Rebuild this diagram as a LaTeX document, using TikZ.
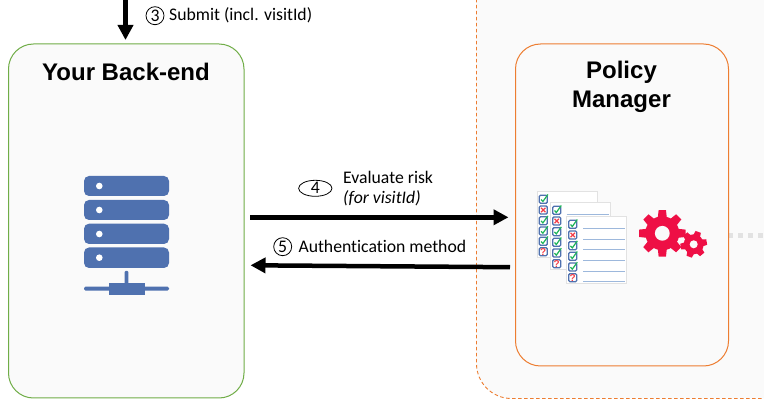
\documentclass[tikz,border=0pt]{standalone}
\usepackage{fontspec}
\setmainfont[Ligatures=NoCommon]{Carlito}
\newfontfamily\titlefont{Liberation Sans}
\usetikzlibrary{arrows.meta}
\definecolor{panel}{HTML}{FAFAFA}
\definecolor{orangeline}{HTML}{ED7D31}
\definecolor{greenline}{HTML}{70AD47}
\definecolor{serverblue}{HTML}{4F71AF}
\definecolor{gearred}{HTML}{EE0F45}
\definecolor{sheetedge}{HTML}{E2E2E2}
\definecolor{ruleblue}{HTML}{9DB8DC}
\definecolor{tickgreen}{HTML}{1FB45A}
\definecolor{crossred}{HTML}{F2404A}
\tikzset{
  x=1pt,y=-1pt,
  box/.style={rounded corners=25pt,fill=panel,line width=1pt},
  title/.style={font=\titlefont\bfseries\fontsize{24}{29}\selectfont,align=center,text=black,inner sep=0pt},
  label/.style={font=\fontsize{17.7}{21}\selectfont,anchor=west,inner sep=0pt,text=black},
  num/.style={font=\fontsize{17.7}{21}\selectfont,draw=black,line width=.8pt,inner sep=0pt},
  flow/.style={line width=4.5pt,-{Triangle[length=15pt,width=15pt]}},
  sheet/.style={fill=white,draw=sheetedge,line width=.9pt},
  boxmark/.style={fill=white,draw=serverblue,line width=1.3pt,rounded corners=1.2pt},
  tick/.style={draw=tickgreen,line width=1.2pt},
  cross/.style={draw=crossred,line width=1.2pt},
  qmark/.style={text=crossred,font=\titlefont\bfseries\fontsize{10}{10}\selectfont,inner sep=0pt},
  rule/.style={draw=ruleblue,line width=.9pt},
  bar/.style={fill=serverblue,rounded corners=5pt},
}
\newcommand{\chk}[2]{\filldraw[boxmark] ({#1-4},{#2-4}) rectangle ({#1+4},{#2+4});}
\newcommand{\chkok}[2]{\chk{#1}{#2}\draw[tick] ({#1-2.2},{#2+.2}) -- ({#1-.4},{#2+2.2}) -- ({#1+4.6},{#2-4.8});}
\newcommand{\chkno}[2]{\chk{#1}{#2}\draw[cross] ({#1-2.2},{#2-2.2}) -- ({#1+2.2},{#2+2.2}) ({#1-2.2},{#2+2.2}) -- ({#1+2.2},{#2-2.2});}
\newcommand{\chkq}[3]{\chk{#1}{#2}\node[qmark] (#3) at (#1,#2) {?};}
% rotation, cx, cy, root radius, outer radius, teeth
\newcommand{\gearshape}[6]{%
  \begin{scope}[shift={(#2,#3)}]
  \fill[gearred] (0,0) circle (#4);
  \pgfmathsetmacro{\st}{360/#6}
  \foreach \i in {1,...,#6}{
    \pgfmathsetmacro{\aa}{#1+\i*\st}
    \fill[gearred] ({#4*.95*cos(\aa-.36*\st)},{#4*.95*sin(\aa-.36*\st)}) --
      ({#5*cos(\aa-.2*\st)},{#5*sin(\aa-.2*\st)}) --
      ({#5*cos(\aa+.2*\st)},{#5*sin(\aa+.2*\st)}) --
      ({#4*.95*cos(\aa+.36*\st)},{#4*.95*sin(\aa+.36*\st)}) -- cycle;
  }
  \end{scope}
}
\begin{document}
\begin{tikzpicture}
\useasboundingbox (0,0) rectangle (764,406);
\fill[white] (0,0) rectangle (764,406);
% outer dashed zone
\begin{scope}
\clip (0,0) rectangle (764,406);
\filldraw[fill=panel,draw=orangeline,line width=.9pt,dash pattern=on 3.5pt off 2.5pt,rounded corners=35pt]
  (476.5,-60) rectangle (860,398.5);
\end{scope}
% dotted continuation
\coordinate (dotsA) at (728,236);
\coordinate (dotsB) at (764,236);
\draw[draw=sheetedge,line width=5pt,dash pattern=on 5pt off 5pt] (dotsA) -- (dotsB);
% boxes
\node[box,draw=greenline,minimum width=235.5pt,minimum height=354pt,inner sep=0pt] (backend) at (126.25,221) {};
\node[box,draw=orangeline,minimum width=213pt,minimum height=322pt,inner sep=0pt] (manager) at (622,205) {};
\node[title] (backendtitle) at (126,72) {Your Back-end};
\node[title] (managertitle) at (621.5,87) {Policy\\Manager};
% server icon
\fill[bar] (84,176) rectangle (169,196);
\fill[bar] (84,200) rectangle (169,220);
\fill[bar] (84,223.7) rectangle (169,244);
\fill[bar] (84,247.5) rectangle (169,268);
\foreach \y in {186,210,234,257.7} \fill[white] (99.3,\y) circle (3.3);
\fill[serverblue,rounded corners=1pt] (124.7,271) rectangle (128.3,284);
\fill[serverblue,rounded corners=1.5pt] (84,286.7) rectangle (169,290.7);
\fill[serverblue] (108.5,282.7) rectangle (144.7,295);
% checklists
\filldraw[sheet] (537.3,191.3) rectangle (597.7,257.7);
\chkok{543.3}{199.3}\chkno{543.3}{210}\chkok{543.3}{220.7}\chkok{543.3}{231}\chkok{543.3}{241.3}\chkq{543.3}{251.7}{qa}
\filldraw[sheet] (550.3,202.3) rectangle (610.3,269.3);
\draw[rule] (566.7,214.3) -- (609,214.3);
\chkok{556.7}{210.3}\chkno{556.7}{221}\chkok{556.7}{231.7}\chkok{556.7}{242.3}\chkok{556.7}{253}\chkq{556.7}{263.7}{qb}
\filldraw[sheet] (566.3,216.3) rectangle (626.7,283.3);
\foreach \y in {228.3,239,249.7,260.3,271,281.7} \draw[rule] (583.3,\y) -- (625,\y);
\chkok{572.7}{224.3}\chkno{572.7}{235}\chkok{572.7}{245.7}\chkok{572.7}{256.3}\chkok{572.7}{267}\chkq{572.7}{277.7}{qc}
% gears
\gearshape{-90}{662.3}{233.3}{17}{23.5}{8}
\fill[panel] (662.3,233.3) circle (7.4);
\gearshape{-70}{693.7}{244.3}{10}{13.5}{6}
\fill[panel] (693.7,244.3) circle (4);
% step 3
\coordinate (submitA) at (125.5,-1);
\coordinate (submitB) at (125.5,40);
\draw[flow] (submitA) -- (submitB);
\node[num,circle,minimum size=18pt] (n3) at (155,15.7) {3};
\node[label] (submit) at (169,15.5) {Submit (incl. visitId)};
% step 4
\coordinate (evalA) at (250,217.3);
\coordinate (evalB) at (508.5,217.3);
\draw[flow] (evalA) -- (evalB);
\draw[draw=black,line width=.8pt] (315.3,188.3) ellipse (16.7 and 8);
\node[font=\fontsize{17.7}{21}\selectfont,inner sep=0pt] (n4) at (315.3,188.3) {4};
\node[label] (evalt) at (343,177) {Evaluate risk};
\node[label,font=\fontsize{17.7}{21}\selectfont\itshape] (evalv) at (343,198) {(for visitId)};
% step 5
\coordinate (authA) at (510,267.2);
\coordinate (authB) at (250.5,265.3);
\draw[flow] (authA) -- (authB);
\node[num,circle,minimum size=18pt] (n5) at (282.7,246.7) {5};
\node[label] (auth) at (298.3,246.5) {Authentication method};
\end{tikzpicture}
\end{document}
